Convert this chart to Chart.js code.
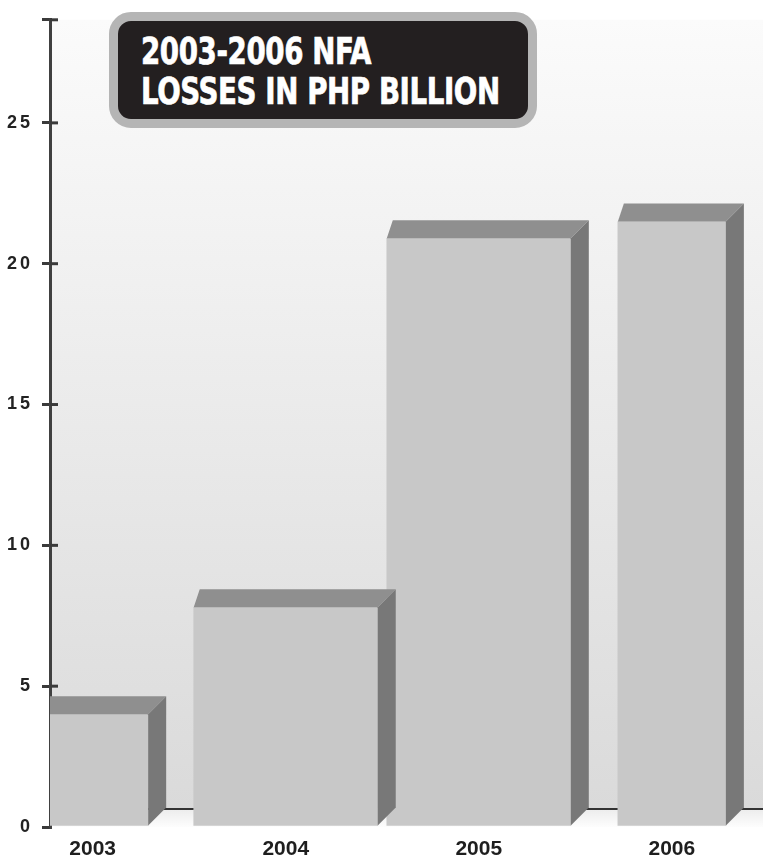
<!DOCTYPE html>
<html><head><meta charset="utf-8">
<script src="https://cdn.jsdelivr.net/npm/chart.js@4.4.1/dist/chart.umd.min.js"></script>
<style>
html,body{margin:0;padding:0;background:#fff;overflow:hidden;width:763px;height:858px;}
#wrap{position:relative;width:763px;height:858px;overflow:hidden;}
canvas{position:absolute;left:0;top:0;}
#title{position:absolute;left:109px;top:12px;width:428px;height:116px;box-sizing:border-box;border:9px solid #b5b5b5;border-radius:22px;background:#231f20;color:#fff;font-family:"Liberation Sans Narrow","DejaVu Sans Condensed","DejaVu Sans",sans-serif;font-weight:bold;font-size:38px;line-height:40px;padding:10px 0 0 23px;letter-spacing:-0.5px;white-space:nowrap;-webkit-text-stroke:0.7px #fff;}
#title span{display:inline-block;transform:scaleX(0.81);transform-origin:0 0;}
</style></head>
<body><div id="wrap"><canvas id="c" width="763" height="863"></canvas><div id="title"><span>2003-2006 NFA<br>LOSSES IN PHP BILLION</span></div></div>
<script>
// ---- data ----
const years = [2003, 2004, 2005, 2006];
const losses = [4.0, 7.8, 20.9, 21.5];
const yTickValues = [0, 5, 10, 15, 20, 25];

// ---- styling / layout constants ----
const barWidths = [111, 184, 184, 108];
const Y_MAX = 28.66, X_MIN = 2002.779, X_MAX = 2006.472;
const DX = 18, DY = -18, BACK_LEFT = 6;

const bar3d = {
  id: 'bar3d',
  beforeDraw(chart) {
    const {ctx, chartArea: a} = chart;
    const y = chart.scales.y;
    const floorY = y.getPixelForValue(0) + DY;
    ctx.save();
    const g = ctx.createLinearGradient(0, a.top, 0, floorY);
    g.addColorStop(0, '#fbfbfb');
    g.addColorStop(1, '#dadada');
    ctx.fillStyle = g;
    ctx.fillRect(a.left, a.top, a.right - a.left, floorY - a.top);
    const f = ctx.createLinearGradient(0, floorY, 0, a.bottom);
    f.addColorStop(0, '#ececec'); f.addColorStop(1, '#fdfdfd');
    ctx.fillStyle = f;
    ctx.fillRect(a.left, floorY, a.right - a.left, a.bottom - floorY);
    ctx.restore();
  },
  beforeDatasetsDraw(chart) {
    const {ctx, chartArea: a} = chart;
    const y = chart.scales.y;
    const floorY = y.getPixelForValue(0) + DY;
    ctx.save();
    ctx.strokeStyle = '#333'; ctx.lineWidth = 2;
    ctx.beginPath(); ctx.moveTo(a.left, floorY); ctx.lineTo(a.right, floorY); ctx.stroke();
    ctx.lineWidth = 3; ctx.strokeStyle = '#3a3a3a';
    y.ticks.forEach(t => {
      if (t.value > 0) {
        const p = y.getPixelForValue(t.value);
        ctx.beginPath(); ctx.moveTo(a.left, p); ctx.lineTo(a.left + 8, p); ctx.stroke();
      }
    });
    ctx.restore();
  },
  afterDatasetsDraw(chart) {
    const {ctx, chartArea: a} = chart;
    ctx.save();
    ctx.beginPath(); ctx.rect(a.left, 0, chart.width - a.left, chart.height); ctx.clip();
    chart.data.datasets.forEach((ds, i) => {
      const meta = chart.getDatasetMeta(i);
      meta.data.forEach(el => {
        const {x, y, base, width} = el.getProps(['x', 'y', 'base', 'width'], true);
        const l = x - width / 2, r = x + width / 2;
        ctx.fillStyle = '#8f8f8f';
        ctx.beginPath(); ctx.moveTo(l, y); ctx.lineTo(r, y); ctx.lineTo(r + DX, y + DY); ctx.lineTo(l + BACK_LEFT, y + DY); ctx.closePath(); ctx.fill();
        ctx.fillStyle = '#787878';
        ctx.beginPath(); ctx.moveTo(r, y); ctx.lineTo(r + DX, y + DY); ctx.lineTo(r + DX, base + DY); ctx.lineTo(r, base); ctx.closePath(); ctx.fill();
      });
    });
    ctx.restore();
  }
};

const datasets = years.map((yr, i) => ({
  label: String(yr),
  data: [{x: yr, y: losses[i]}],
  backgroundColor: '#c8c8c8',
  borderWidth: 0,
  barThickness: barWidths[i],
  grouped: false
}));

new Chart(document.getElementById('c'), {
  type: 'bar',
  data: {datasets},
  plugins: [bar3d],
  options: {
    responsive: false,
    animation: false,
    layout: {padding: {top: 16, left: 0, right: 0, bottom: 0}},
    plugins: {legend: {display: false}, tooltip: {enabled: false}, title: {display: false}},
    scales: {
      x: {
        type: 'linear',
        offset: false,
        min: X_MIN, max: X_MAX,
        afterBuildTicks: s => { s.ticks = years.map(v => ({value: v})); },
        afterFit: s => { s.height = 36; },
        grid: {display: false, drawTicks: false, offset: false},
        border: {display: false},
        ticks: {
          padding: 10,
          color: '#1e1e1e',
          font: {family: '"Liberation Sans", Arial, sans-serif', size: 21, weight: 'bold'},
          callback: v => String(v)
        }
      },
      y: {
        min: 0, max: Y_MAX,
        afterBuildTicks: s => { s.ticks = [...yTickValues, Y_MAX].map(v => ({value: v})); },
        afterFit: s => { s.width = 50; },
        afterUpdate: s => {
          if (s._spaced) return;
          s._spaced = true;
          const orig = s.draw.bind(s);
          s.draw = (ca) => { s.ctx.save(); s.ctx.letterSpacing = '3px'; orig(ca); s.ctx.restore(); };
        },
        grid: {display: true, drawOnChartArea: false, drawTicks: true, tickLength: 8, color: '#3a3a3a', lineWidth: 3},
        border: {display: true, color: '#404040', width: 3},
        ticks: {
          padding: 9,
          color: '#222',
          font: {family: '"Liberation Sans", Arial, sans-serif', size: 18, weight: 'bold'},
          callback: v => yTickValues.includes(v) ? String(v) : ''
        }
      }
    }
  }
});
</script>
</body></html>
